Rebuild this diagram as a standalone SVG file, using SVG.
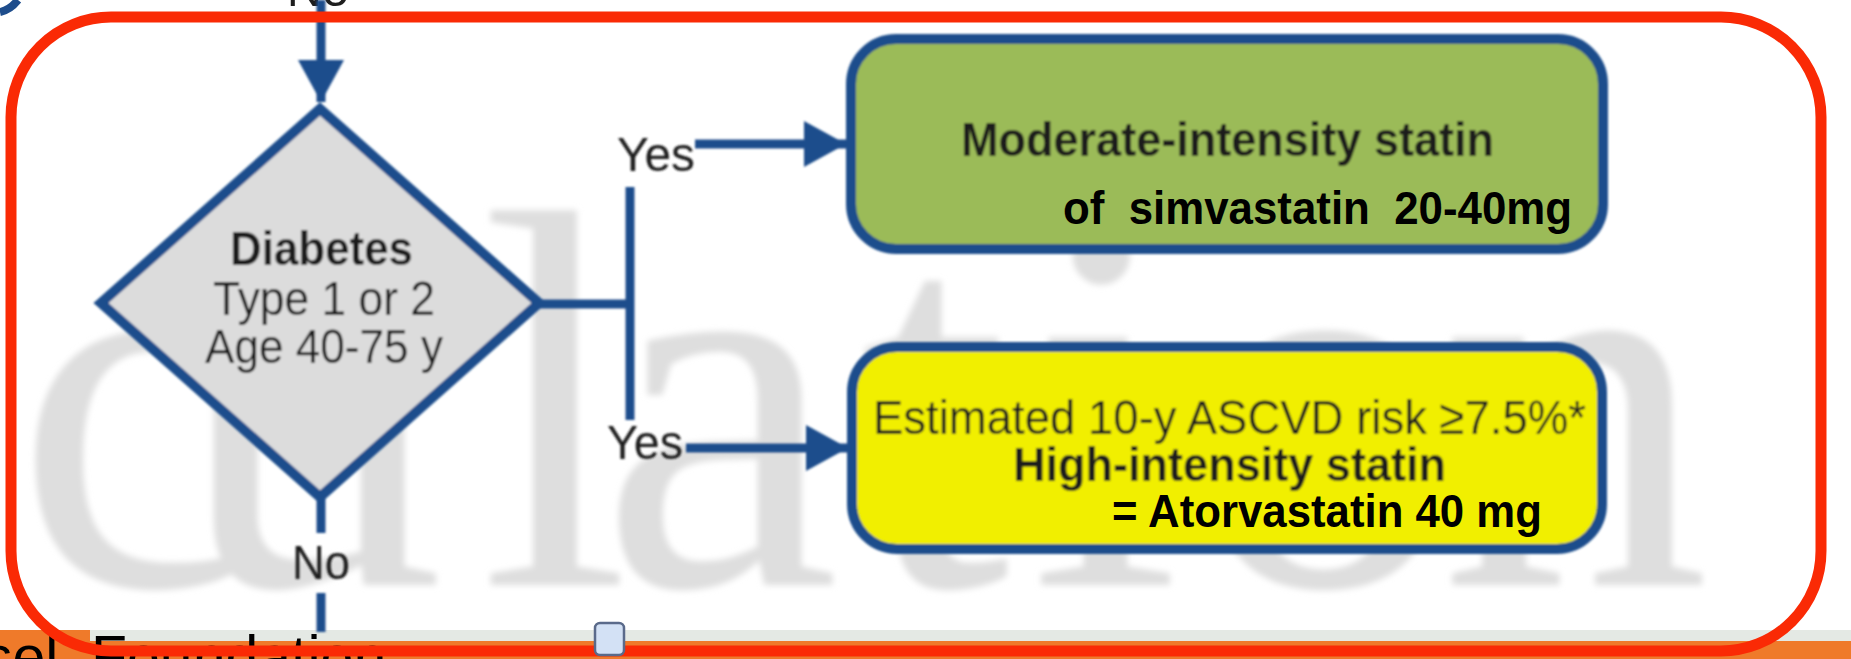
<svg xmlns="http://www.w3.org/2000/svg" width="1851" height="659" viewBox="0 0 1851 659">
  <defs>
    <style>
      .lbl { font-family: "Liberation Sans", Arial, sans-serif; font-size: 49px; fill: #1e1e1e; }
      .b { font-weight: bold; }
      .note { font-family: "Liberation Sans", Arial, sans-serif; font-size: 47px; font-weight: bold; fill: #000; }
      .wire { stroke: #1e4d8c; stroke-width: 9; fill: none; }
      .node { stroke: #1e4d8c; stroke-width: 10; }
      .mark { font-family: "Liberation Serif", "Times New Roman", serif; font-size: 540px; fill: #dedede; }
    </style>
    <filter id="soft" x="-5%" y="-5%" width="110%" height="110%">
      <feGaussianBlur stdDeviation="1.2"/>
    </filter>
    <filter id="haze" x="-5%" y="-5%" width="110%" height="110%">
      <feGaussianBlur stdDeviation="3"/>
    </filter>
    <marker id="head" markerUnits="userSpaceOnUse" markerWidth="42" markerHeight="46" refX="42" refY="23" orient="auto">
      <path d="M0,0 L42,23 L0,46 Z" fill="#1e4d8c"/>
    </marker>
  </defs>

  <rect width="1851" height="659" fill="#ffffff"/>

  <!-- background watermark -->
  <text class="mark" y="585" x="15 175 480 600 860 1030 1190 1440" filter="url(#haze)">culation</text>

  <!-- slide footer strip -->
  <rect x="0" y="630" width="1851" height="11" fill="#e4e9e4"/>
  <rect x="0" y="641" width="1851" height="18" fill="#ef7a2a"/>
  <rect x="0" y="630" width="90" height="11" fill="#ef7a2a"/>
  <text font-family="Liberation Sans, Arial, sans-serif" font-size="59" fill="#000"><tspan x="-17" y="677">sel</tspan><tspan x="91" y="677">Foundation</tspan></text>

  <!-- fragment of a shape above -->
  <path d="M0,12 Q10,10 18,0" stroke="#1e4d8c" stroke-width="8" fill="none"/>
  <text class="lbl" x="318" y="6" text-anchor="middle" fill="#555">No</text>

  <g filter="url(#soft)">
    <g id="connectors">
      <line class="wire" x1="321" y1="0" x2="321" y2="102" marker-end="url(#head)"/>
      <line class="wire" x1="537" y1="304" x2="634" y2="304"/>
      <line class="wire" x1="630" y1="187" x2="630" y2="420"/>
      <line class="wire" x1="695" y1="144" x2="846" y2="144" marker-end="url(#head)"/>
      <line class="wire" x1="686" y1="448" x2="848" y2="448" marker-end="url(#head)"/>
      <line class="wire" x1="321" y1="497" x2="321" y2="533"/>
      <line class="wire" x1="321" y1="593" x2="321" y2="632"/>
      <text class="lbl" x="617" y="171" textLength="78" lengthAdjust="spacingAndGlyphs" fill="#333">Yes</text>
      <text class="lbl" x="607" y="459" textLength="76" lengthAdjust="spacingAndGlyphs" fill="#333">Yes</text>
      <text class="lbl" x="292" y="579" textLength="58" lengthAdjust="spacingAndGlyphs" fill="#333">No</text>
    </g>

    <g id="diabetes">
      <polygon class="node" points="320,109 539,303 320,497 101,303" fill="#dcdcdc" stroke-linejoin="miter"/>
      <text class="lbl b" x="230" y="265" textLength="183" lengthAdjust="spacingAndGlyphs">Diabetes</text>
      <text class="lbl" x="213" y="315" textLength="222" lengthAdjust="spacingAndGlyphs">Type 1 or 2</text>
      <text class="lbl" x="205" y="363" textLength="238" lengthAdjust="spacingAndGlyphs">Age 40-75 y</text>
    </g>

    <g id="moderate">
      <rect class="node" x="851" y="39" width="752" height="210" rx="45" fill="#9bbb59"/>
      <text class="lbl b" x="961" y="156" textLength="533" lengthAdjust="spacingAndGlyphs">Moderate-intensity statin</text>
    </g>

    <g id="high">
      <rect class="node" x="852" y="347" width="750" height="202" rx="45" fill="#f1ef00"/>
      <text class="lbl" x="873" y="434" textLength="713" lengthAdjust="spacingAndGlyphs" fill="#2a2a10">Estimated 10-y ASCVD risk ≥7.5%*</text>
      <text class="lbl b" x="1013" y="481" textLength="433" lengthAdjust="spacingAndGlyphs">High-intensity statin</text>
    </g>
  </g>

  <!-- dose annotations -->
  <text class="note" x="1063" y="224" textLength="509" lengthAdjust="spacingAndGlyphs" xml:space="preserve">of  simvastatin  20-40mg</text>
  <text class="note" x="1112" y="527" textLength="430" lengthAdjust="spacingAndGlyphs">= Atorvastatin 40 mg</text>

  <!-- highlight frame -->
  <rect x="11" y="17" width="1810" height="634" rx="100" fill="none" stroke="#fa2a05" stroke-width="11"/>

  <!-- selection handle -->
  <rect x="595" y="623" width="29" height="32" rx="5" fill="#d3e1f5" stroke="#5a6a8a" stroke-width="2.5"/>
</svg>
